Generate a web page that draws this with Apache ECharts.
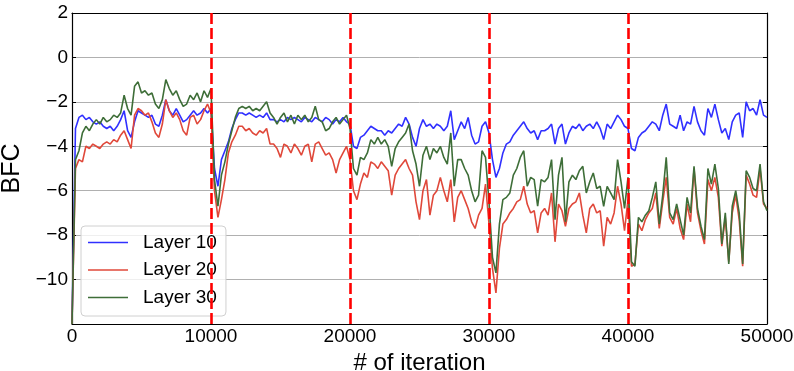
<!DOCTYPE html>
<html>
<head>
<meta charset="utf-8">
<script src="https://cdn.jsdelivr.net/npm/echarts@6/dist/echarts.min.js"></script>
<style>
html,body{margin:0;padding:0;background:#fff;}
#chart{width:794px;height:371px;}
</style>
</head>
<body>
<div id="chart"></div>
<script>
// sampling step of the read-off values (iterations)
const STEP = 250;
const xTicks = [0, 10000, 20000, 30000, 40000, 50000];
const yTicks = [2, 0, -2, -4, -6, -8, -10];
const phaseBoundaries = [10000, 20000, 30000, 40000];
const seriesNames = ['Layer 10', 'Layer 20', 'Layer 30'];

// Layer 10 (values every 250 iterations, 0..50000)
const layer10 = [
 -12, -3.2, -2.7, -2.6, -2.8, -2.7, -2.9, -3.0, -2.9, -3.1,
 -3.2, -3.1, -3.3, -3.1, -2.8, -2.4, -3.3, -3.6, -2.9, -2.4,
 -2.5, -2.6, -2.7, -2.6, -3.0, -3.1, -2.6, -1.9, -2.4, -2.6,
 -2.3, -2.6, -2.9, -2.8, -2.6, -2.4, -2.6, -2.5, -2.3, -2.5,
 -2.3, -5.0, -5.8, -4.6, -4.2, -3.8, -3.2, -2.8, -2.5, -2.5,
 -2.6, -2.5, -2.6, -2.7, -2.6, -2.7, -2.5, -2.8, -2.8, -2.9,
 -2.8, -2.9, -2.7, -2.8, -2.7, -2.8, -2.9, -2.7, -2.8, -2.9,
 -2.7, -2.8, -2.9, -2.7, -2.8, -3.0, -2.8, -2.9, -2.7, -2.9,
 -3.0, -4.0, -4.1, -3.6, -3.5, -3.3, -3.1, -3.2, -3.3, -3.3,
 -3.5, -3.3, -3.4, -3.2, -3.0, -3.1, -2.7, -3.0, -3.6, -4.0,
 -3.2, -2.8, -3.1, -3.0, -3.2, -3.0, -3.1, -3.3, -3.1, -2.4,
 -3.7, -3.3, -2.9, -3.2, -2.7, -3.5, -3.9, -3.8, -3.1, -2.9,
 -3.4, -4.6, -5.4, -5.0, -4.3, -3.9, -3.8, -3.5, -3.3, -3.1,
 -2.9, -3.2, -3.4, -3.3, -3.7, -3.3, -3.3, -3.2, -3.0, -3.9,
 -3.2, -3.0, -3.9, -3.4, -3.1, -3.2, -3.0, -3.3, -3.1, -3.0,
 -3.2, -2.9, -3.2, -3.7, -3.0, -3.2, -2.9, -2.6, -2.8, -3.1,
 -3.2, -4.1, -4.2, -3.6, -3.4, -3.3, -3.1, -2.9, -3.0, -3.3,
 -2.6, -2.1, -3.0, -3.1, -3.2, -2.6, -3.3, -2.9, -3.0, -2.2,
 -2.9, -3.3, -3.5, -2.3, -2.7, -2.1, -2.8, -3.4, -3.2, -3.7,
 -2.9, -2.6, -2.5, -3.6, -2.0, -2.4, -2.3, -2.6, -1.9, -2.6,
 -2.7
];

// Layer 20
const layer20 = [
 -12, -5.0, -4.6, -4.7, -4.0, -4.1, -3.9, -4.0, -4.1, -3.9,
 -3.8, -3.9, -3.7, -3.8, -3.5, -3.3, -3.7, -4.1, -2.6, -2.3,
 -2.4, -2.6, -2.5, -2.9, -3.4, -3.6, -3.0, -1.9, -2.4, -2.7,
 -2.5, -2.8, -3.3, -3.5, -2.7, -2.6, -3.0, -2.8, -2.4, -2.1,
 -2.5, -6.0, -7.2, -6.4, -5.5, -4.3, -3.8, -3.5, -3.1, -3.1,
 -3.3, -3.2, -3.4, -3.5, -3.3, -3.4, -3.2, -3.9, -3.9, -4.1,
 -4.5, -3.9, -4.0, -4.3, -3.9, -4.1, -4.4, -4.0, -3.9, -4.7,
 -3.9, -3.8, -4.1, -4.4, -4.3, -4.6, -5.2, -4.6, -4.3, -4.0,
 -4.6, -6.0, -6.4, -5.7, -5.2, -5.4, -4.7, -4.8, -5.0, -4.7,
 -4.9, -5.1, -6.2, -5.3, -5.0, -4.8, -4.6, -5.0, -5.3, -6.5,
 -7.3, -6.0, -5.5, -7.1, -6.2, -6.0, -5.4, -6.0, -6.5, -5.5,
 -7.4, -6.3, -6.0, -6.4, -6.8, -7.4, -7.7, -7.1, -6.8, -5.7,
 -7.5, -9.5, -10.6, -8.6, -7.5, -7.3, -7.0, -6.8, -6.5, -6.4,
 -5.8, -6.6, -7.0, -6.9, -7.9, -7.0, -6.8, -7.1, -6.1, -8.3,
 -6.6, -6.9, -7.6, -6.8, -6.6, -6.5, -6.1, -7.1, -7.9, -6.8,
 -6.6, -7.0, -6.9, -8.5, -7.2, -7.5, -7.0, -5.8, -6.6, -7.8,
 -6.4, -9.4, -9.3, -7.5, -7.8, -7.3, -7.0, -6.8, -6.1, -7.7,
 -6.5, -5.4, -7.2, -7.5, -6.8, -7.7, -8.2, -6.6, -7.4, -5.0,
 -7.0, -7.8, -8.4, -5.5, -6.0, -5.4, -6.3, -8.5, -7.2, -9.2,
 -7.0, -6.2, -7.3, -9.4, -5.3, -5.7, -6.2, -6.3, -5.0, -6.6,
 -6.8
];

// Layer 30
const layer30 = [
 -12, -4.6, -4.2, -3.4, -3.1, -3.3, -3.0, -2.8, -3.0, -2.7,
 -2.9, -2.8, -2.6, -2.7, -2.5, -1.7, -2.3, -2.6, -1.3, -1.1,
 -1.6, -1.5, -1.7, -1.6, -2.1, -2.3, -1.9, -1.0, -1.4, -1.7,
 -1.5, -1.9, -2.2, -2.1, -1.7, -1.9, -1.6, -2.0, -1.5, -1.8,
 -1.4, -5.5, -6.7, -5.3, -4.7, -3.9, -3.3, -2.7, -2.3, -2.2,
 -2.3, -2.2, -2.4, -2.3, -2.4, -2.2, -2.0, -2.5, -2.7, -3.0,
 -2.7, -2.5, -2.9, -2.6, -3.0, -2.6, -2.8, -2.6, -2.9, -2.7,
 -2.2, -2.8, -2.9, -3.3, -3.2, -2.9, -2.7, -3.0, -2.8, -2.6,
 -3.2, -5.0, -5.3, -4.5, -4.6, -4.3, -3.7, -3.9, -3.6, -3.9,
 -3.7, -4.0, -4.9, -4.1, -3.8, -3.6, -3.4, -3.0, -4.2, -4.8,
 -5.8, -4.4, -4.0, -4.6, -4.1, -4.3, -4.0, -4.5, -4.8, -3.4,
 -5.8, -4.6, -4.6, -5.0, -5.3, -6.0, -6.5, -6.2, -4.2, -4.5,
 -6.5, -9.0, -9.7, -7.5, -6.4, -6.3, -6.1, -5.3, -5.0, -4.5,
 -4.2, -5.8, -5.4, -5.5, -6.7, -5.5, -5.6, -5.4, -4.6, -7.3,
 -5.3, -4.5, -7.4, -5.6, -5.3, -5.5, -5.1, -4.9, -6.1, -5.6,
 -5.2, -5.9, -5.8, -6.7, -5.8, -6.1, -6.4, -4.6, -5.6, -6.8,
 -5.4, -9.2, -9.4, -7.2, -7.4, -7.1, -6.9, -6.3, -5.6, -7.5,
 -6.2, -4.5, -7.0, -7.3, -6.6, -7.3, -8.0, -6.3, -7.0, -4.9,
 -6.8, -7.6, -8.2, -5.0, -5.7, -4.8, -5.9, -8.4, -7.0, -9.3,
 -6.7, -6.0, -7.0, -9.3, -5.1, -5.4, -5.9, -6.0, -4.8, -6.5,
 -6.9
];

const colors = ['#3030ff', '#e0483a', '#3e6e38'];
const FONT = 'Liberation Sans, Arial, sans-serif';
const toPairs = arr => arr.map((v, i) => [i * STEP, v]);
const fmtY = v => (v === -12 ? '' : String(v).replace('-', '\u2212'));
const fmtX = v => String(v);

const chart = echarts.init(document.getElementById('chart'), null, {renderer: 'canvas'});
const tickCommon = {show: true, inside: true, length: 4, lineStyle: {color: '#000', width: 1}};
const lineCommon = {show: true, onZero: false, lineStyle: {color: '#000', width: 1.2}};

const lineSeries = [layer10, layer20, layer30].map((arr, k) => ({
  name: seriesNames[k],
  type: 'line',
  data: toPairs(arr),
  showSymbol: false,
  symbol: 'none',
  lineStyle: {color: colors[k], width: 1.6},
  itemStyle: {color: colors[k]},
  z: 2 + k * 0.1,
  animation: false
}));

lineSeries.push({
  name: 'boundaries',
  type: 'line',
  data: [],
  symbol: 'none',
  z: 5,
  markLine: {
    silent: true,
    symbol: ['none', 'none'],
    animation: false,
    label: {show: false},
    lineStyle: {color: '#ff0000', width: 2.6, type: [11, 4], opacity: 1},
    emphasis: {disabled: true},
    data: phaseBoundaries.map(v => ({xAxis: v}))
  }
});

chart.setOption({
  animation: false,
  backgroundColor: '#fff',
  grid: {left: 72, right: 27, top: 13, bottom: 47, containLabel: false, outerBoundsMode: 'none'},
  legend: {
    data: seriesNames.map(n => ({name: n, icon: 'rect'})),
    orient: 'vertical',
    left: 81,
    top: 226,
    itemWidth: 40,
    itemHeight: 1.6,
    itemGap: 6.5,
    padding: [6, 9, 8, 7],
    backgroundColor: 'rgba(255,255,255,0.8)',
    borderColor: '#d0d0d0',
    borderWidth: 1,
    borderRadius: 4,
    textStyle: {fontFamily: FONT, fontSize: 19, color: '#000', lineHeight: 21, padding: [0, 0, 0, 10]},
    selectedMode: false
  },
  xAxis: [{
    type: 'value', min: 0, max: 50000, interval: 10000,
    name: '# of iteration', nameLocation: 'middle', nameGap: 20,
    nameTextStyle: {fontFamily: FONT, fontSize: 24, color: '#000'},
    axisLine: lineCommon, axisTick: tickCommon,
    axisLabel: {fontFamily: FONT, fontSize: 19, color: '#000', margin: 3, formatter: fmtX, showMaxLabel: true, showMinLabel: true},
    splitLine: {show: false}
  }, {
    type: 'value', min: 0, max: 50000, interval: 10000, position: 'top',
    axisLine: lineCommon, axisTick: tickCommon, axisLabel: {show: false}, splitLine: {show: false}
  }],
  yAxis: [{
    type: 'value', min: -12, max: 2, interval: 2,
    name: 'BFC', nameLocation: 'middle', nameGap: 34,
    nameTextStyle: {fontFamily: FONT, fontSize: 25, color: '#000'},
    axisLine: lineCommon, axisTick: tickCommon,
    axisLabel: {fontFamily: FONT, fontSize: 19, color: '#000', margin: 4, formatter: fmtY},
    splitLine: {show: true, lineStyle: {color: '#b0b0b0', width: 1}}
  }, {
    type: 'value', min: -12, max: 2, interval: 2, position: 'right',
    axisLine: lineCommon, axisTick: tickCommon, axisLabel: {show: false}, splitLine: {show: false}
  }],
  series: lineSeries
});
</script>
</body>
</html>
